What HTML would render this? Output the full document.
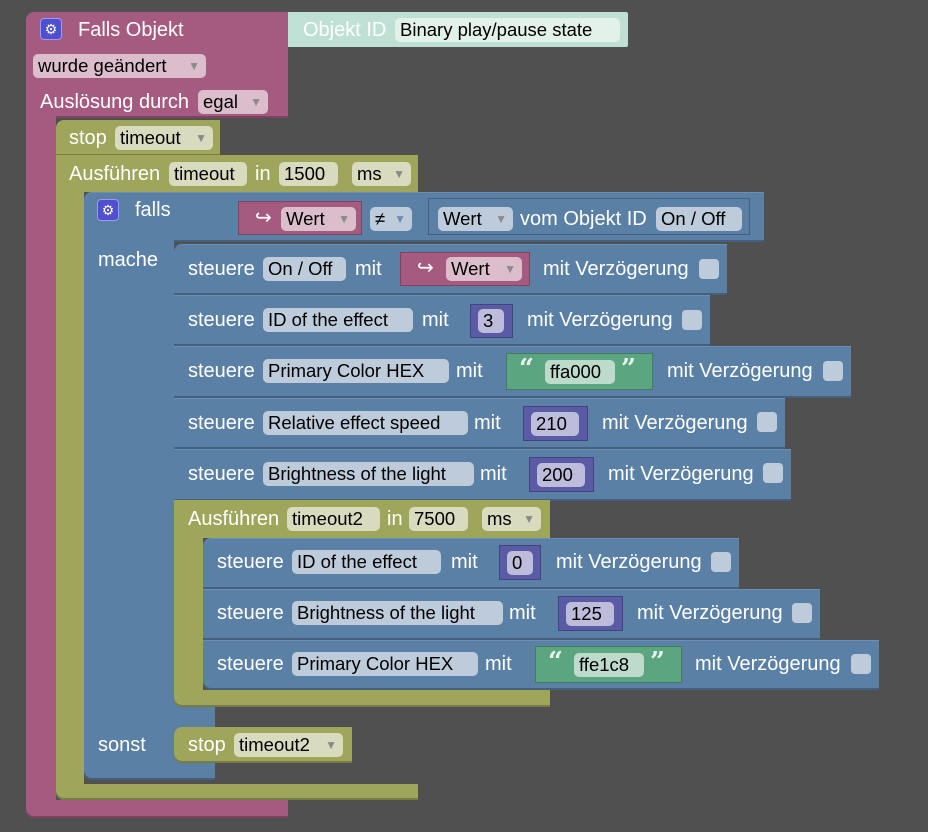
<!DOCTYPE html>
<html><head><meta charset="utf-8"><style>
body{margin:0;width:928px;height:832px;background:#505050;position:relative;overflow:hidden;font-family:"Liberation Sans",sans-serif}
.b{position:absolute}
.P{background:#a55b80;box-shadow:inset 0 -2px 0 #7c4460}
.O{background:#9fa55b;box-shadow:inset 0 -2px 0 #777c44}
.B{background:#5b80a5;box-shadow:inset 0 -2px 0 #44607c;border-top:1px solid #6a8fb3;box-sizing:border-box}
.N{background:#5b5ba5;border:1px solid #44447c;box-sizing:border-box}
.G{background:#5ba580;border:1px solid #447c60;box-sizing:border-box}
.PV{background:#a55b80;border:1px solid #7c4460;box-sizing:border-box}
.t{position:absolute;color:#fff;font-size:20px;line-height:24px;white-space:nowrap}
.f{position:absolute;color:#000;font-size:18.5px;line-height:24px;height:24px;border-radius:5px;white-space:nowrap;padding-left:5px;box-sizing:border-box}
.fp{background:#dbbdcc}.fo{background:#d8dbbd}.fb{background:#bdcbdb}.fn{background:#bdbddb}.fg{background:#bddbcc}.ft{background:#e2f1ea}
.a{font-size:12px;color:#8a8a8a;position:absolute;right:6px;top:0}
.cb{position:absolute;width:20px;height:20px;border-radius:4px;background:#bdcbdb}
.gear{position:absolute;width:22px;height:22px;border-radius:4px;background:#4f4fd0;border:1px solid #9a9aee;box-sizing:border-box;color:#fff;font-size:14px;line-height:20px;text-align:center}
.q{position:absolute;color:#e8f4ee;font-weight:bold;font-family:"DejaVu Serif",serif;font-size:26px;line-height:30px}
</style></head><body>
<!-- pink hat -->
<div class="b P" style="left:26px;top:12px;width:262px;height:106px;border-radius:8px 0 0 0"></div>
<div class="b P" style="left:26px;top:110px;width:30px;height:708px;border-radius:0 0 0 8px"></div>
<div class="b P" style="left:26px;top:800px;width:262px;height:18px;border-radius:0 0 0 8px"></div>
<div class="b" style="left:288px;top:12px;width:340px;height:35px;background:#bfe0d4;border-radius:0 2px 2px 0"></div>
<div class="gear" style="left:40px;top:18px">⚙</div>
<div class="t" style="left:78px;top:18px">Falls Objekt</div>
<div class="t" style="left:303px;top:18px">Objekt ID</div>
<div class="f ft" style="left:395px;top:18px;width:225px">Binary play/pause state</div>
<div class="f fp" style="left:33px;top:54px;width:173px">wurde geändert<span class="a">▼</span></div>
<div class="t" style="left:40px;top:90px">Auslösung durch</div>
<div class="f fp" style="left:198px;top:90px;width:70px">egal<span class="a">▼</span></div>
<!-- olive -->
<div class="b O" style="left:56px;top:120px;width:164px;height:36px;border-radius:8px 0 0 0"></div>
<div class="t" style="left:69px;top:126px">stop</div>
<div class="f fo" style="left:115px;top:126px;width:98px">timeout<span class="a">▼</span></div>
<div class="b O" style="left:56px;top:155px;width:362px;height:37px;box-shadow:none"></div>
<div class="b O" style="left:56px;top:185px;width:28px;height:615px;border-radius:0 0 0 8px"></div>
<div class="b O" style="left:56px;top:784px;width:362px;height:16px;border-radius:0 0 0 8px"></div>
<div class="t" style="left:69px;top:162px">Ausführen</div>
<div class="f fo" style="left:169px;top:162px;width:78px">timeout</div>
<div class="t" style="left:255px;top:162px">in</div>
<div class="f fo" style="left:279px;top:162px;width:59px">1500</div>
<div class="f fo" style="left:352px;top:162px;width:59px">ms<span class="a">▼</span></div>
<!-- blue if -->
<div class="b B" style="left:84px;top:192px;width:680px;height:50px;border-radius:8px 0 0 0"></div>
<div class="b B" style="left:84px;top:240px;width:90px;height:540px;border-radius:0 0 0 8px;border-top:none"></div>
<div class="b B" style="left:150px;top:700px;width:65px;height:80px;border-top:none"></div>
<div class="gear" style="left:97px;top:199px">⚙</div>
<div class="t" style="left:135px;top:198px">falls</div>
<div class="t" style="left:98px;top:248px">mache</div>
<div class="t" style="left:98px;top:733px">sonst</div>
<div class="b PV" style="left:238px;top:201px;width:124px;height:34px"></div>
<div class="t" style="left:255px;top:206px">↪</div>
<div class="f fp" style="left:281px;top:207px;width:75px">Wert<span class="a">▼</span></div>
<div class="f fb" style="left:370px;top:207px;width:42px">≠<span class="a" style="color:#6a8fb3">▼</span></div>
<div class="b" style="left:428px;top:198px;width:322px;height:37px;border:1px solid #44607c;box-sizing:border-box;background:#5b80a5"></div>
<div class="f fb" style="left:438px;top:207px;width:75px">Wert<span class="a">▼</span></div>
<div class="t" style="left:520px;top:207px">vom Objekt ID</div>
<div class="f fb" style="left:656px;top:207px;width:86px">On / Off</div>
<!-- rows -->
<div class="b B" style="left:174px;top:244px;width:553px;height:51px;border-radius:8px 0 0 0"></div>
<div class="t" style="left:188px;top:257px">steuere</div>
<div class="f fb" style="left:263px;top:257px;width:83px">On / Off</div>
<div class="t" style="left:355px;top:257px">mit</div>
<div class="b PV" style="left:400px;top:252px;width:130px;height:34px"></div>
<div class="t" style="left:417px;top:256px">↪</div>
<div class="f fp" style="left:446px;top:257px;width:76px">Wert<span class="a">▼</span></div>
<div class="t" style="left:543px;top:257px">mit Verzögerung</div>
<div class="cb" style="left:699px;top:259px"></div>

<div class="b B" style="left:174px;top:295px;width:536px;height:51px"></div>
<div class="t" style="left:188px;top:308px">steuere</div>
<div class="f fb" style="left:263px;top:308px;width:150px">ID of the effect</div>
<div class="t" style="left:422px;top:308px">mit</div>
<div class="b N" style="left:470px;top:304px;width:43px;height:34px"></div>
<div class="f fn" style="left:478px;top:309px;width:26px">3</div>
<div class="t" style="left:527px;top:308px">mit Verzögerung</div>
<div class="cb" style="left:682px;top:310px"></div>

<div class="b B" style="left:174px;top:346px;width:677px;height:52px"></div>
<div class="t" style="left:188px;top:359px">steuere</div>
<div class="f fb" style="left:263px;top:359px;width:186px">Primary Color HEX</div>
<div class="t" style="left:456px;top:359px">mit</div>
<div class="b G" style="left:506px;top:353px;width:147px;height:37px"></div>
<div class="q" style="left:519px;top:354px">“</div>
<div class="f fg" style="left:545px;top:360px;width:70px">ffa000</div>
<div class="q" style="left:621px;top:354px">”</div>
<div class="t" style="left:667px;top:359px">mit Verzögerung</div>
<div class="cb" style="left:823px;top:361px"></div>

<div class="b B" style="left:174px;top:398px;width:611px;height:51px"></div>
<div class="t" style="left:188px;top:411px">steuere</div>
<div class="f fb" style="left:263px;top:411px;width:205px">Relative effect speed</div>
<div class="t" style="left:474px;top:411px">mit</div>
<div class="b N" style="left:523px;top:406px;width:65px;height:35px"></div>
<div class="f fn" style="left:531px;top:412px;width:48px">210</div>
<div class="t" style="left:602px;top:411px">mit Verzögerung</div>
<div class="cb" style="left:757px;top:412px"></div>

<div class="b B" style="left:174px;top:449px;width:617px;height:52px"></div>
<div class="t" style="left:188px;top:462px">steuere</div>
<div class="f fb" style="left:263px;top:462px;width:211px">Brightness of the light</div>
<div class="t" style="left:480px;top:462px">mit</div>
<div class="b N" style="left:529px;top:457px;width:65px;height:35px"></div>
<div class="f fn" style="left:537px;top:463px;width:48px">200</div>
<div class="t" style="left:608px;top:462px">mit Verzögerung</div>
<div class="cb" style="left:763px;top:463px"></div>

<!-- Ausführen 2 -->
<div class="b O" style="left:174px;top:500px;width:376px;height:38px;box-shadow:none"></div>
<div class="b O" style="left:174px;top:530px;width:29px;height:177px;border-radius:0 0 0 8px"></div>
<div class="b O" style="left:174px;top:690px;width:376px;height:17px;border-radius:0 0 0 8px"></div>
<div class="t" style="left:188px;top:507px">Ausführen</div>
<div class="f fo" style="left:287px;top:507px;width:93px">timeout2</div>
<div class="t" style="left:387px;top:507px">in</div>
<div class="f fo" style="left:409px;top:507px;width:59px">7500</div>
<div class="f fo" style="left:482px;top:507px;width:59px">ms<span class="a">▼</span></div>

<div class="b B" style="left:203px;top:538px;width:536px;height:51px;border-radius:8px 0 0 0"></div>
<div class="t" style="left:217px;top:550px">steuere</div>
<div class="f fb" style="left:292px;top:550px;width:149px">ID of the effect</div>
<div class="t" style="left:451px;top:550px">mit</div>
<div class="b N" style="left:499px;top:545px;width:42px;height:35px"></div>
<div class="f fn" style="left:507px;top:551px;width:26px">0</div>
<div class="t" style="left:556px;top:550px">mit Verzögerung</div>
<div class="cb" style="left:711px;top:552px"></div>

<div class="b B" style="left:203px;top:589px;width:617px;height:51px"></div>
<div class="t" style="left:217px;top:601px">steuere</div>
<div class="f fb" style="left:292px;top:601px;width:211px">Brightness of the light</div>
<div class="t" style="left:509px;top:601px">mit</div>
<div class="b N" style="left:558px;top:596px;width:65px;height:35px"></div>
<div class="f fn" style="left:566px;top:602px;width:48px">125</div>
<div class="t" style="left:637px;top:601px">mit Verzögerung</div>
<div class="cb" style="left:792px;top:603px"></div>

<div class="b B" style="left:203px;top:640px;width:676px;height:50px;border-radius:0 0 0 8px"></div>
<div class="t" style="left:217px;top:652px">steuere</div>
<div class="f fb" style="left:292px;top:652px;width:186px">Primary Color HEX</div>
<div class="t" style="left:485px;top:652px">mit</div>
<div class="b G" style="left:535px;top:646px;width:147px;height:37px"></div>
<div class="q" style="left:548px;top:647px">“</div>
<div class="f fg" style="left:574px;top:653px;width:70px">ffe1c8</div>
<div class="q" style="left:650px;top:647px">”</div>
<div class="t" style="left:695px;top:652px">mit Verzögerung</div>
<div class="cb" style="left:851px;top:654px"></div>

<!-- stop timeout2 -->
<div class="b O" style="left:174px;top:727px;width:178px;height:36px;border-radius:8px 0 0 8px"></div>
<div class="t" style="left:188px;top:733px">stop</div>
<div class="f fo" style="left:234px;top:733px;width:109px">timeout2<span class="a">▼</span></div>
</body></html>
